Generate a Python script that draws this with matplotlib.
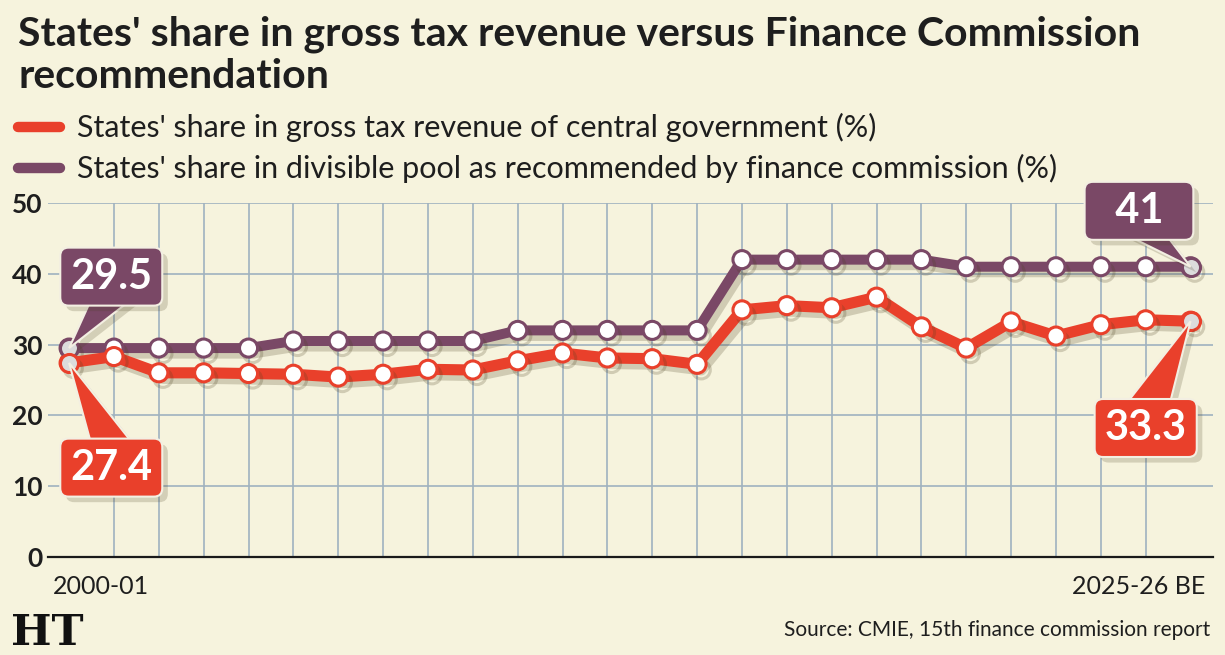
import matplotlib
matplotlib.use('Agg')
import matplotlib.pyplot as plt
import matplotlib.patheffects as pe
from matplotlib import font_manager
from matplotlib.lines import Line2D
from matplotlib.patches import Polygon
from matplotlib.transforms import ScaledTranslation

names = set(f.name for f in font_manager.fontManager.ttflist)
FONT = 'Liberation Sans Narrow' if 'Liberation Sans Narrow' in names else 'Lato'
plt.rcParams['font.family'] = [FONT, 'DejaVu Sans']

# data
years = ['2000-01', '2025-26 BE']
gross_share = [27.4, 28.3, 26.0, 26.0, 25.9, 25.8, 25.4, 25.8, 26.5, 26.4,
               27.7, 28.8, 28.1, 28.0, 27.2, 34.9, 35.5, 35.2, 36.7, 32.5,
               29.5, 33.2, 31.2, 32.8, 33.5, 33.3]
fc_share = [29.5, 29.5, 29.5, 29.5, 29.5, 30.5, 30.5, 30.5, 30.5, 30.5,
            32, 32, 32, 32, 32, 42, 42, 42, 42, 42,
            41, 41, 41, 41, 41, 41]
label_gross = "States' share in gross tax revenue of central government (%)"
label_fc = "States' share in divisible pool as recommended by finance commission (%)"

BG = '#f6f3dd'
RED = '#e9402b'
PURPLE = '#7a4866'
GRID = '#9fb2bf'
EDGE = '#f3efe2'

fig = plt.figure(figsize=(12.25, 6.55), dpi=100, facecolor=BG)
ax = fig.add_axes([0.0392, 0.150, 0.951, 0.540], facecolor=BG)

x = list(range(len(gross_share)))
ends = [0, len(x) - 1]
shadow = [pe.SimpleLineShadow(offset=(3, -4), shadow_color='#4a4020', alpha=0.22), pe.Normal()]

ax.plot(x, fc_share, color=PURPLE, lw=7.2, marker='o', ms=13, mfc='white',
        mec=PURPLE, mew=2.2, zorder=4, path_effects=shadow, solid_joinstyle='round')
ax.plot(x, gross_share, color=RED, lw=8, marker='o', ms=13, mfc='white',
        mec=RED, mew=2.2, zorder=5, path_effects=shadow, solid_joinstyle='round')
# highlighted end points
ax.plot(ends, [fc_share[i] for i in ends], 'o', ms=13, mfc='#dcdcdc', mec=PURPLE, mew=2.2, zorder=6)
ax.plot(ends, [gross_share[i] for i in ends], 'o', ms=13, mfc='#dcdcdc', mec=RED, mew=2.2, zorder=6)

ax.set_xlim(-0.47, 25.5)
ax.set_ylim(0, 50)
ax.set_yticks([0, 10, 20, 30, 40, 50])
ax.set_xticks(x, minor=True)
ax.grid(True, which='minor', axis='x', color=GRID, lw=1.2, zorder=1)
ax.grid(True, which='major', axis='y', color=GRID, lw=1.2, zorder=1)
ax.tick_params(axis='x', which='minor', length=0)
ax.tick_params(axis='both', which='major', length=0)
for s in ['top', 'right', 'left']:
    ax.spines[s].set_visible(False)
ax.spines['bottom'].set_color('#1a1a1a')
ax.spines['bottom'].set_linewidth(1.6)
ax.spines['bottom'].set_zorder(3)

for t in ax.get_yticklabels():
    t.set_fontsize(19)
    t.set_fontweight('bold')
    t.set_color('#1e1e1e')
ax.tick_params(axis='y', pad=4)

ax.set_xticks([0, 25], years)
ax.tick_params(axis='x', which='major', pad=13, labelsize=18, labelcolor='#1e1e1e')
xl = ax.get_xticklabels()
xl[0].set_ha('left')
xl[0].set_transform(xl[0].get_transform() + ScaledTranslation(-16 / 100, 0, fig.dpi_scale_trans))
xl[1].set_ha('right')
xl[1].set_transform(xl[1].get_transform() + ScaledTranslation(15 / 100, 0, fig.dpi_scale_trans))

box_shadow = [pe.withSimplePatchShadow(offset=(4, -4), shadow_rgbFace='#4a4020', alpha=0.2)]


def callout(text, idx, series, color, tx, ty, side, dx, w):
    # label box
    t = ax.text(tx, ty, text, ha='center', va='center', fontsize=30, fontweight='bold',
                color='white', zorder=10,
                bbox=dict(boxstyle='round,pad=0.24,rounding_size=0.2', fc=color, ec=EDGE, lw=1.5))
    t.get_bbox_patch().set_path_effects(box_shadow)
    # pointer: triangle from box edge to the data point
    tip = ax.transData.transform((idx, series[idx]))
    cx, cy = ax.transData.transform((tx, ty))
    by = cy - 16 if side == 'bottom' else cy + 16
    base = [(cx + dx - w / 2, by), (cx + dx + w / 2, by)]
    pts = ax.transData.inverted().transform([base[0], tuple(tip), base[1]])
    ax.add_patch(Polygon(pts, closed=True, fc=color, ec=EDGE, lw=1.5, zorder=9,
                         path_effects=box_shadow))


callout('29.5', 0, fc_share, PURPLE, 0.94, 39.6, 'bottom', 6, 46)
callout('27.4', 0, gross_share, RED, 0.94, 12.6, 'top', 5, 46)
callout('  41  ', 25, fc_share, PURPLE, 23.85, 48.9, 'bottom', -4, 50)
callout('33.3', 25, gross_share, RED, 24.0, 18.2, 'top', -2, 48)

# title
fig.text(0.0147, 0.931, "States' share in gross tax revenue versus Finance Commission",
         fontsize=29.5, fontweight='bold', color='#1e1e1e', va='baseline')
fig.text(0.0147, 0.866, "recommendation", fontsize=29.5, fontweight='bold', color='#1e1e1e', va='baseline')

# legend
for yl, yt, col, lab in [(0.806, 0.791, RED, label_gross), (0.744, 0.728, PURPLE, label_fc)]:
    fig.add_artist(Line2D([0.0147, 0.049], [yl, yl], transform=fig.transFigure, color=col,
                          lw=7.5, solid_capstyle='round'))
    fig.text(0.0629, yt, lab, fontsize=22, color='#1e1e1e', va='baseline')

fig.text(0.988, 0.029, 'Source: CMIE, 15th finance commission report', fontsize=15,
         color='#1e1e1e', ha='right', va='baseline')
fig.text(0.009, 0.016, 'HT', fontsize=31, fontweight='bold', family='DejaVu Serif',
         color='#111111', va='baseline')

fig.savefig('out.png', dpi=100, facecolor=BG)
